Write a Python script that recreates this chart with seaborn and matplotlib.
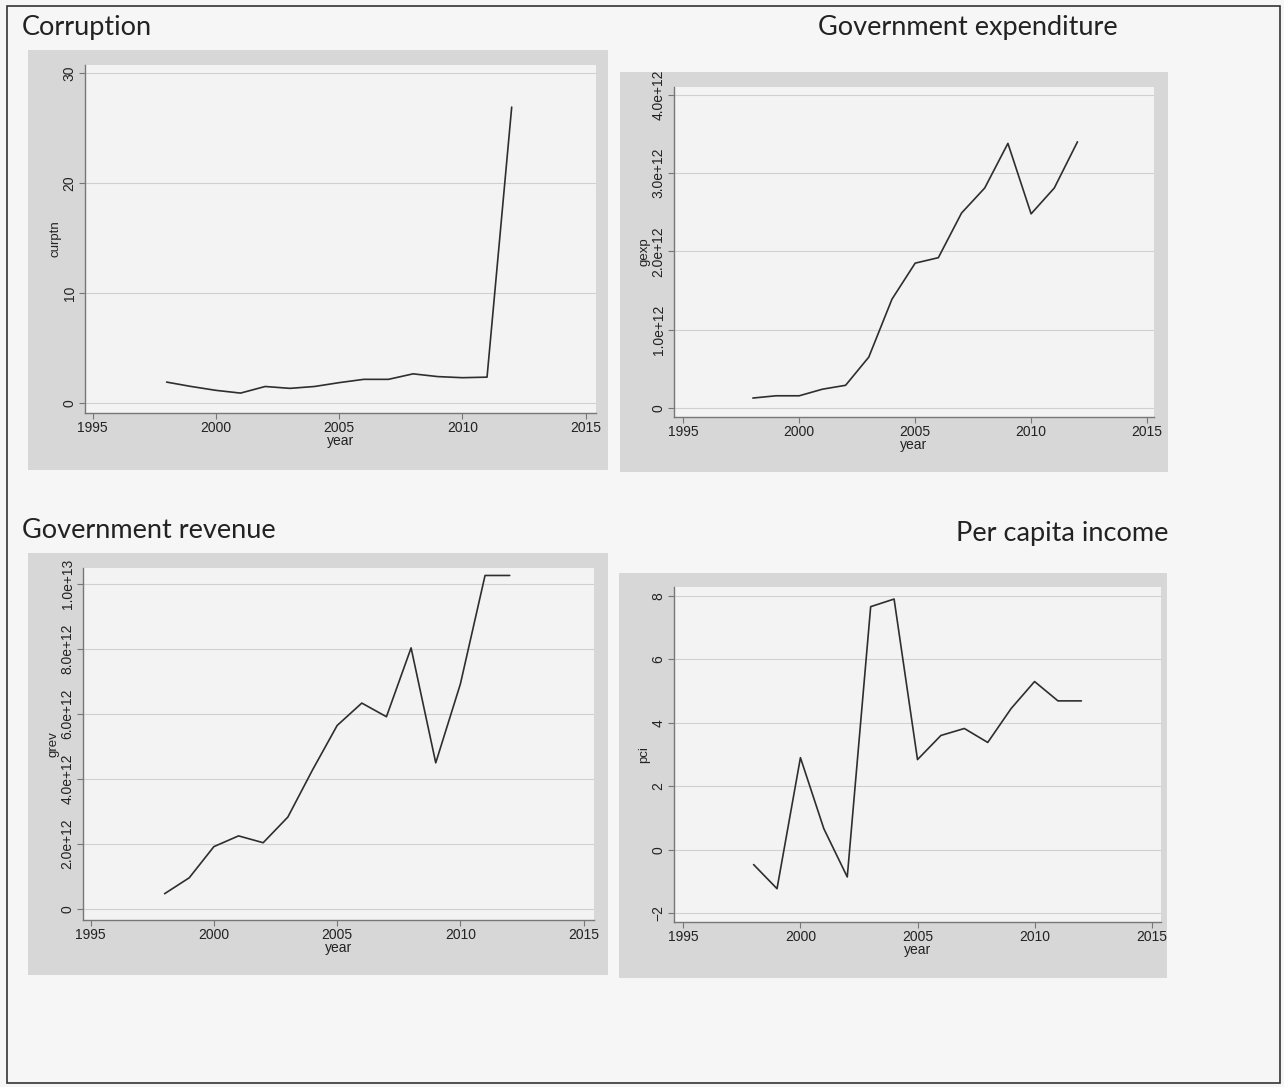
import numpy as np
import pandas as pd
import matplotlib
matplotlib.use("Agg")
import matplotlib.pyplot as plt
from matplotlib.patches import Rectangle
from matplotlib.ticker import FixedLocator, FuncFormatter
import seaborn as sns

# data
years = [1998, 1999, 2000, 2001, 2002, 2003, 2004, 2005, 2006, 2007, 2008, 2009, 2010, 2011, 2012]
curptn = [1.9, 1.5, 1.15, 0.9, 1.5, 1.33, 1.5, 1.85, 2.15, 2.15, 2.65, 2.4, 2.3, 2.35, 26.9]
gexp = [0.127e12, 0.156e12, 0.156e12, 0.24e12, 0.29e12, 0.65e12, 1.39e12, 1.85e12, 1.92e12,
        2.49e12, 2.81e12, 3.38e12, 2.48e12, 2.81e12, 3.40e12]
grev = [0.47e12, 0.96e12, 1.92e12, 2.25e12, 2.04e12, 2.83e12, 4.28e12, 5.65e12, 6.34e12,
        5.92e12, 8.04e12, 4.5e12, 6.93e12, 10.27e12, 10.27e12]
pci = [-0.47, -1.23, 2.9, 0.66, -0.86, 7.66, 7.9, 2.84, 3.6, 3.82, 3.38, 4.45, 5.3, 4.69, 4.69]

year_ticks = [1995, 2000, 2005, 2010, 2015]
curptn_ticks = [0, 10, 20, 30]
gexp_ticks = [0, 1e12, 2e12, 3e12, 4e12]
grev_ticks = [0, 2e12, 4e12, 6e12, 8e12, 1e13]
pci_ticks = [-2, 0, 2, 4, 6, 8]

titles = ["Corruption", "Government expenditure", "Government revenue", "Per capita income"]

df = pd.DataFrame({"year": years, "curptn": curptn, "gexp": gexp, "grev": grev, "pci": pci})

sns.set_theme(style="white")
plt.rcParams["font.family"] = ["Liberation Sans", "DejaVu Sans"]

W, H = 1284, 1087
fig = plt.figure(figsize=(W / 100, H / 100), dpi=100)
fig.patch.set_facecolor("#f6f6f6")


def px_rect(x0, y0, x1, y1):
    # pixel box (top-left origin) -> figure fraction [left, bottom, width, height]
    return [x0 / W, 1 - y1 / H, (x1 - x0) / W, (y1 - y0) / H]


# outer frame of the page
l, b, w, h = px_rect(7, 6, 1280, 1083)
fig.patches.append(Rectangle((l, b), w, h, transform=fig.transFigure, fill=False,
                             edgecolor="#333333", linewidth=1.2, zorder=-1))

def sci(v, pos=None):
    return "0" if v == 0 else f"{v:.1e}"

panels = [
    # var, gray region, plot box, xlim, ylim, yticks, formatter
    ("curptn", (28, 50, 608, 470), (85, 65, 596, 413), (1994.69, 2015.42), (-0.91, 30.73), curptn_ticks, None),
    ("gexp", (620, 72, 1168, 472), (674, 87, 1154, 417), (1994.6, 2015.3), (-0.115e12, 4.1e12), gexp_ticks, sci),
    ("grev", (28, 553, 608, 975), (83, 568, 594, 920), (1994.69, 2015.42), (-0.34e12, 1.05e13), grev_ticks, sci),
    ("pci", (619, 573, 1167, 978), (674, 587, 1161, 922), (1994.6, 2015.4), (-2.28, 8.28), pci_ticks, None),
]
title_pos = [(22, 27, "left"), (1118, 27, "right"), (22, 531, "left"), (1168, 533, "right")]

for (var, grect, prect, xlim, ylim, yt, fmt), title, (tx, ty, ha) in zip(panels, titles, title_pos):
    l, b, w, h = px_rect(*grect)
    fig.patches.append(Rectangle((l, b), w, h, transform=fig.transFigure,
                                 facecolor="#d7d7d7", edgecolor="none", zorder=-1))
    ax = fig.add_axes(px_rect(*prect))
    ax.set_zorder(2)
    ax.set_facecolor("#f3f3f3")
    sns.lineplot(data=df, x="year", y=var, ax=ax, color="#2e2e2e", linewidth=1.2)
    ax.set_xlim(*xlim)
    ax.set_ylim(*ylim)
    ax.xaxis.set_major_locator(FixedLocator(year_ticks))
    ax.yaxis.set_major_locator(FixedLocator(yt))
    if fmt is not None:
        ax.yaxis.set_major_formatter(FuncFormatter(fmt))
    for y in yt:
        ax.axhline(y, color="#d0d0d0", linewidth=0.8, zorder=0)
    for s in ["top", "right"]:
        ax.spines[s].set_visible(False)
    for s in ["left", "bottom"]:
        ax.spines[s].set_color("#777777")
        ax.spines[s].set_linewidth(1.0)
    ax.tick_params(axis="both", which="major", direction="out", length=4, width=0.8,
                   color="#777777", labelsize=10, labelcolor="#222222", pad=2,
                   left=True, bottom=True)
    for lab in ax.get_yticklabels():
        lab.set_rotation(90)
        lab.set_va("center")
    ax.set_xlabel("year", fontsize=10, color="#222222", labelpad=-1)
    ax.set_ylabel(var, fontsize=9.5, color="#222222", labelpad=1)
    fig.text(tx / W, 1 - ty / H, title, ha=ha, va="center", fontsize=19.5,
             color="#222222", family=["Lato", "DejaVu Sans"])

fig.savefig("out.png", dpi=100, facecolor=fig.get_facecolor())
